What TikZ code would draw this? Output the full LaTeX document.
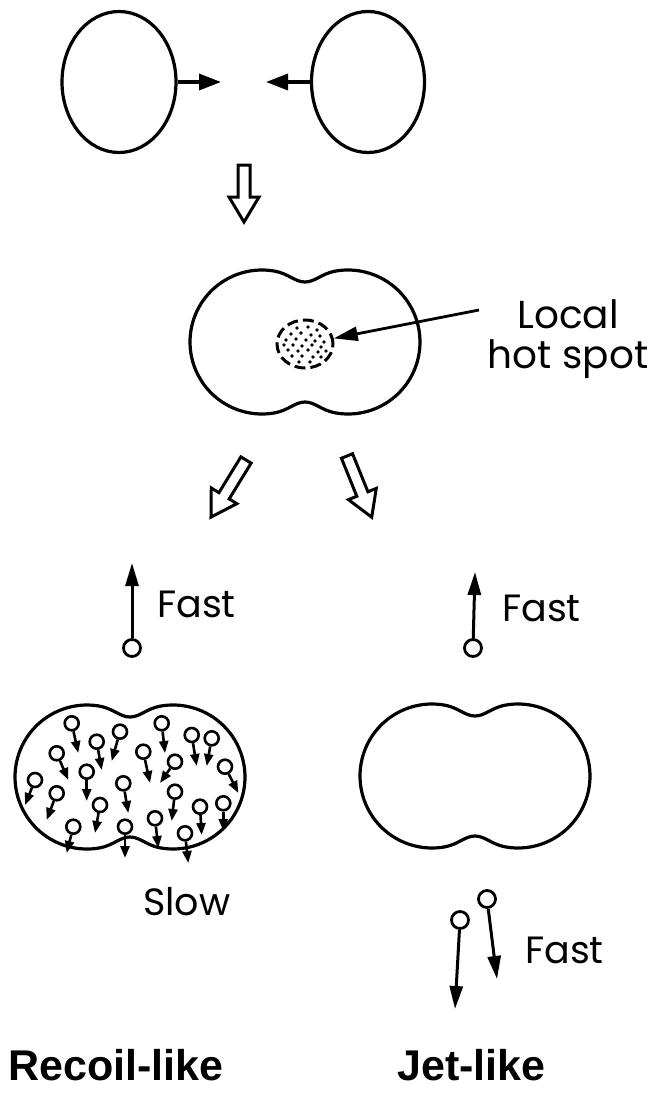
\documentclass[tikz,border=0pt]{standalone}
\usepackage{fontspec}
\newfontfamily\leroy{Poppins}
\newfontfamily\heavy{Liberation Sans}
\usetikzlibrary{arrows.meta,shapes.geometric,calc}
\tikzset{
  outline/.style={line width=3.2pt},
  bigarr/.style={-{Triangle[length=22pt,width=16pt]}, line width=3.4pt},
  fastarr/.style={-{Triangle[length=23pt,width=13pt]}, line width=3pt},
  smallarr/.style={-{Triangle[length=12pt,width=9pt]}, line width=2.6pt},
  part/.style={circle, draw, line width=2.6pt, minimum size=14pt, inner sep=0pt},
  bigpart/.style={circle, draw, line width=2.8pt, minimum size=17pt, inner sep=0pt},
  lbl/.style={font=\leroy\fontsize{38}{42}\selectfont, inner sep=0pt},
  hollowarrow/.pic={\draw[line width=3pt, line join=miter]
     (-6,0) -- (6,0) -- (6,-#1+25) -- (15,-#1+25) -- (0,-#1) -- (-15,-#1+25) -- (-6,-#1+25) -- cycle;},
  dumbbell/.pic={\draw[outline]
     (30.5,70.9) .. controls (16.7,68.5) and (10,60) .. (0,60)
     .. controls (-10,60) and (-16.7,68.5) .. (-30.5,70.9)
     arc[start angle=80,end angle=280,radius=72]
     .. controls (-16.7,-68.5) and (-10,-60) .. (0,-60)
     .. controls (10,-60) and (16.7,-68.5) .. (30.5,-70.9)
     arc[start angle=-100,end angle=100,radius=72] -- cycle;}
}
\begin{document}
\begin{tikzpicture}[x=1pt,y=1pt]
\path[use as bounding box, fill=white] (0,0) rectangle (653,-1098);

% top: two nuclei
\node[ellipse, draw, outline, minimum width=114pt, minimum height=141pt, inner sep=0pt] (nl) at (119,-82) {};
\node[ellipse, draw, outline, minimum width=113pt, minimum height=141pt, inner sep=0pt] (nr) at (368,-82) {};
\coordinate (al) at (221,-82);
\coordinate (ar) at (266,-82);
\draw[bigarr] (nl.east) -- (al);
\draw[bigarr] (nr.west) -- (ar);

% hollow arrow down
\pic at (244,-165) {hollowarrow={57}};

% middle compound nucleus
\pic at (305,-342) {dumbbell};
\node[ellipse, draw, line width=3pt, dash pattern=on 11pt off 5pt, minimum width=56pt, minimum height=48pt, inner sep=0pt] (hs) at (305,-344) {};
\foreach \dx/\dy in {-8/16,3/17,12/14,-14/10,-4/11,6/9,15/8,-19/4,-9/5,1/4,10/3,19/2,-21/-1,-12/-1,-3/-2,7/-1,16/-3,-17/-6,-7/-7,3/-6,13/-8,21/-7,-13/-12,-3/-12,8/-13,16/-13,-6/-18,5/-18}
  \fill ($(305,-344)+(\dx,\dy)$) circle (1.8pt);
\node[lbl, align=center, font=\leroy\fontsize{39}{40}\selectfont] (hslbl) at (568,-339) {Local\\hot spot};
\coordinate (hsfrom) at (479,-310);
\draw[-{Triangle[length=24pt,width=14pt]}, line width=2.8pt] (hsfrom) -- (hs);

% hollow diagonal arrows
\pic[rotate=-31.5] at (246,-460) {hollowarrow={67}};
\pic[rotate=22] at (347,-456) {hollowarrow={66}};

% Fast emissions (upper)
\node[bigpart] (fl) at (132,-648) {};
\coordinate (flt) at (132,-563);
\draw[fastarr] (fl) -- (flt);
\node[lbl, anchor=base west] (fastl) at (157,-617) {Fast};
\node[bigpart] (fr) at (473,-648) {};
\coordinate (frt) at (475,-572);
\draw[fastarr] (fr) -- (frt);
\node[lbl, anchor=base west] (fastr) at (502,-621) {Fast};

% recoil-like nucleus
\pic at (130,-777) {dumbbell};
\foreach \cx/\cy/\tx/\ty [count=\i] in {
  71.7/723.3/78.3/753, 96.7/741.7/101.7/770, 120/731.7/111.7/761, 56.7/753.3/68.3/780,
  161.7/723.3/165/753, 191.7/735/196.7/766, 211.7/738.3/206.7/766, 143.3/751.7/150/783,
  175/761.7/160/783, 35/780/25/805, 86.7/771.7/86.7/801, 225/766.7/238.3/793,
  56.7/793.3/46.7/820, 123.3/783.3/128.3/813, 175/791.7/171.7/821, 100/805/95/833,
  200/806.7/201.7/835, 223.3/803.3/223.3/831, 73.3/826.7/66.7/853, 125/826.7/125/858,
  155/818.3/158.3/848, 185/833.3/188.3/863}
{
  \node[part] (p\i) at (\cx,-\cy) {};
  \coordinate (t\i) at (\tx,-\ty);
  \draw[smallarr] (p\i) -- (t\i);
}
\node[lbl, anchor=base west] (slow) at (143,-915) {Slow};

% jet-like nucleus
\pic at (475,-776) {dumbbell};
\node[bigpart] (j1) at (487,-899) {};
\coordinate (j1t) at (497,-979);
\draw[fastarr] (j1) -- (j1t);
\node[bigpart] (j2) at (460,-920) {};
\coordinate (j2t) at (455,-1009);
\draw[fastarr] (j2) -- (j2t);
\node[lbl, anchor=base west] (fastj) at (525,-963) {Fast};

% captions
\node[font=\heavy\bfseries\fontsize{43}{46}\selectfont, anchor=base west, inner sep=0pt] (rec) at (8,-1080) {Recoil-like};
\node[font=\heavy\bfseries\fontsize{43}{46}\selectfont, anchor=base west, inner sep=0pt] (jet) at (397,-1080) {Jet-like};
\end{tikzpicture}
\end{document}
